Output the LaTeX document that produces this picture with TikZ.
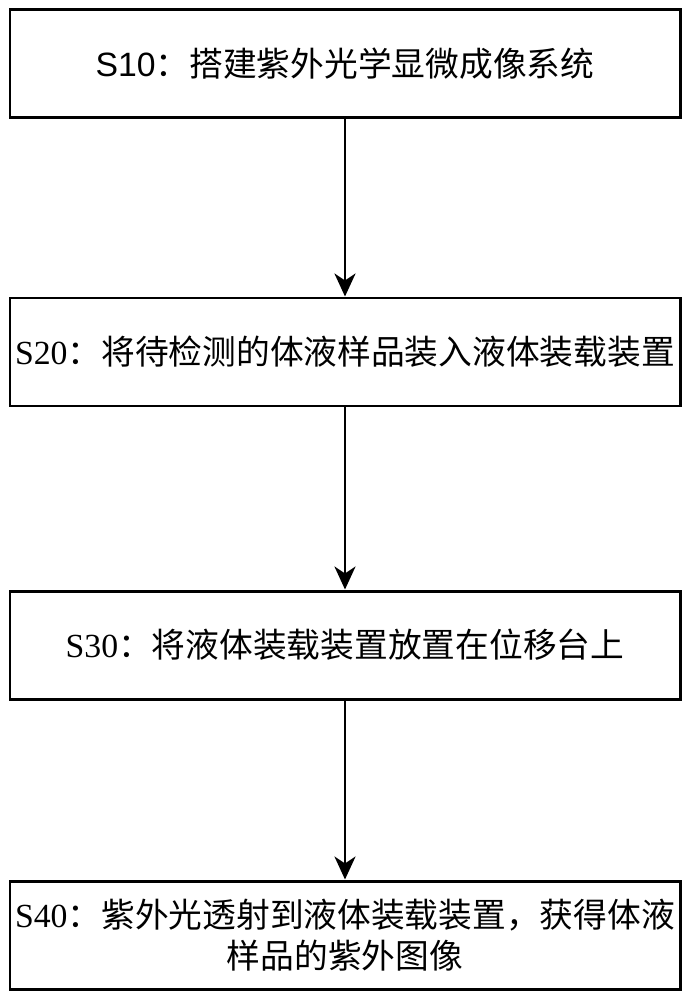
\documentclass[tikz,border=0pt]{standalone}
\usepackage{fontspec}
\setmainfont{Liberation Serif}
\newfontfamily\arialfont{Liberation Sans}
\newfontfamily\cjk{Noto Sans CJK SC}
\usetikzlibrary{arrows.meta}

\begin{document}
\begin{tikzpicture}[
  stepbox/.style={draw, line width=1.7pt, minimum width=13.4cm, minimum height=2.16cm,
    inner sep=0pt, align=center, font=\fontsize{19.2}{23}\selectfont},
  flow/.style={-{Stealth[length=4.6mm, width=4.2mm, inset=1.4mm]}, line width=1.7pt}]
\useasboundingbox (0,0) rectangle (13.82,-20);

\node[stepbox] (build) at (6.9,-1.27) {{\arialfont S10}{\cjk ：搭建紫外光学显微成像系统}};
\node[stepbox] (load) at (6.9,-7.04) {S20{\cjk ：将待检测的体液样品装入液体装载装置}};
\node[stepbox] (place) at (6.9,-12.9) {S30{\cjk ：将液体装载装置放置在位移台上}};
\node[stepbox] (image) at (6.9,-18.7) {S40{\cjk ：紫外光透射到液体装载装置，获得体液}\\{\cjk 样品的紫外图像}};

\draw[flow] (build) -- (load);
\draw[flow] (load) -- (place);
\draw[flow] (place) -- (image);
\end{tikzpicture}
\end{document}
